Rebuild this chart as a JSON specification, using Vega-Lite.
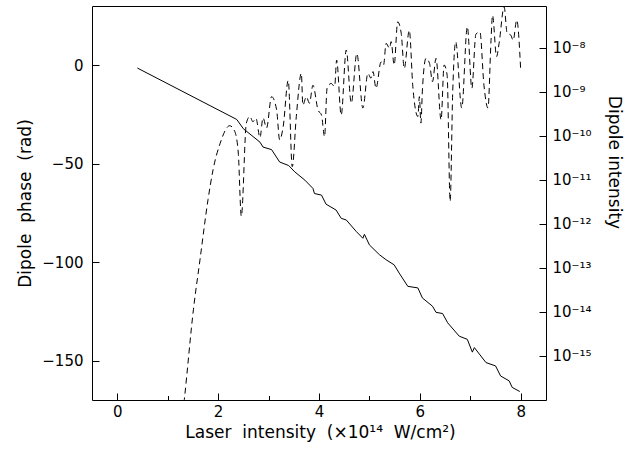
{
  "$schema": "https://vega.github.io/schema/vega-lite/v6.json",
  "width": 454,
  "height": 394,
  "autosize": {"type": "none"},
  "padding": {"left": 92, "top": 6, "right": 80, "bottom": 62},
  "background": "white",
  "config": {
    "view": {"stroke": "black", "strokeWidth": 1},
    "axis": {
      "domainColor": "black", "tickColor": "black", "labelColor": "black", "titleColor": "black",
      "labelFont": "DejaVu Sans", "titleFont": "DejaVu Sans", "labelFontSize": 15, "titleFontSize": 17,
      "titleFontWeight": "normal", "grid": false, "tickWidth": 1, "domain": false, "ticks": true
    }
  },
  "datasets": {
    "phase": [
      {"x": 0.40, "phase": -1.5}, {"x": 2.37, "phase": -27.6}, {"x": 2.50, "phase": -32.3}, {"x": 2.83, "phase": -39.1},
      {"x": 2.89, "phase": -41.6}, {"x": 3.06, "phase": -42.9}, {"x": 3.22, "phase": -49.2}, {"x": 3.40, "phase": -51.0},
      {"x": 3.52, "phase": -54.2}, {"x": 3.72, "phase": -58.4}, {"x": 3.88, "phase": -62.6}, {"x": 3.91, "phase": -65.2},
      {"x": 4.05, "phase": -66.0}, {"x": 4.14, "phase": -70.6}, {"x": 4.34, "phase": -73.6}, {"x": 4.44, "phase": -77.8},
      {"x": 4.54, "phase": -78.6}, {"x": 4.74, "phase": -84.5}, {"x": 4.87, "phase": -87.9}, {"x": 4.90, "phase": -85.9},
      {"x": 5.00, "phase": -91.3}, {"x": 5.20, "phase": -96.3}, {"x": 5.33, "phase": -98.8}, {"x": 5.49, "phase": -101.4},
      {"x": 5.59, "phase": -105.6}, {"x": 5.76, "phase": -112.3}, {"x": 5.96, "phase": -113.1}, {"x": 6.05, "phase": -118.2},
      {"x": 6.25, "phase": -122.4}, {"x": 6.32, "phase": -125.5}, {"x": 6.45, "phase": -126.1}, {"x": 6.55, "phase": -130.8},
      {"x": 6.78, "phase": -137.6}, {"x": 6.94, "phase": -139.2}, {"x": 7.04, "phase": -145.7}, {"x": 7.08, "phase": -143.4},
      {"x": 7.31, "phase": -151.0}, {"x": 7.50, "phase": -152.7}, {"x": 7.60, "phase": -157.8}, {"x": 7.77, "phase": -160.3},
      {"x": 7.83, "phase": -163.6}, {"x": 7.98, "phase": -165.7}
    ],
    "intensity": [
      {"x": 1.30, "intensity": 5e-17}, {"x": 1.33, "intensity": 1.02e-16}, {"x": 1.51, "intensity": 1.12e-14},
      {"x": 1.64, "intensity": 1.51e-13}, {"x": 1.80, "intensity": 3.55e-12}, {"x": 1.90, "intensity": 1.70e-11},
      {"x": 2.04, "intensity": 6.76e-11}, {"x": 2.23, "intensity": 1.70e-10}, {"x": 2.33, "intensity": 1.26e-10},
      {"x": 2.40, "intensity": 4.07e-11}, {"x": 2.46, "intensity": 1.48e-12}, {"x": 2.56, "intensity": 1.95e-10},
      {"x": 2.63, "intensity": 2.75e-10}, {"x": 2.69, "intensity": 2.09e-10}, {"x": 2.75, "intensity": 2.51e-10},
      {"x": 2.83, "intensity": 9.12e-11}, {"x": 2.89, "intensity": 2.57e-10}, {"x": 2.96, "intensity": 1.51e-10},
      {"x": 3.06, "intensity": 7.76e-10}, {"x": 3.16, "intensity": 3.89e-10}, {"x": 3.22, "intensity": 8.13e-11},
      {"x": 3.29, "intensity": 1.62e-10}, {"x": 3.39, "intensity": 1.82e-9}, {"x": 3.47, "intensity": 2.0e-11},
      {"x": 3.55, "intensity": 2.75e-10}, {"x": 3.65, "intensity": 2.63e-9}, {"x": 3.68, "intensity": 5.01e-10},
      {"x": 3.75, "intensity": 7.76e-10}, {"x": 3.81, "intensity": 5.50e-10}, {"x": 3.88, "intensity": 1.41e-9},
      {"x": 3.98, "intensity": 3.89e-10}, {"x": 4.05, "intensity": 2.95e-10}, {"x": 4.11, "intensity": 9.55e-11},
      {"x": 4.16, "intensity": 1.20e-9}, {"x": 4.24, "intensity": 1.55e-9}, {"x": 4.31, "intensity": 1.32e-9},
      {"x": 4.35, "intensity": 5.25e-9}, {"x": 4.44, "intensity": 2.95e-10}, {"x": 4.54, "intensity": 8.91e-9},
      {"x": 4.64, "intensity": 5.50e-10}, {"x": 4.75, "intensity": 7.41e-9}, {"x": 4.87, "intensity": 4.27e-10},
      {"x": 4.97, "intensity": 2.63e-9}, {"x": 5.03, "intensity": 2.04e-9}, {"x": 5.07, "intensity": 2.88e-9},
      {"x": 5.13, "intensity": 1.20e-9}, {"x": 5.23, "intensity": 4.79e-9}, {"x": 5.28, "intensity": 4.07e-9},
      {"x": 5.33, "intensity": 1.26e-8}, {"x": 5.40, "intensity": 9.77e-9}, {"x": 5.43, "intensity": 1.38e-8},
      {"x": 5.49, "intensity": 4.07e-9}, {"x": 5.56, "intensity": 3.89e-8}, {"x": 5.63, "intensity": 2.14e-8},
      {"x": 5.69, "intensity": 3.39e-9}, {"x": 5.79, "intensity": 2.51e-8}, {"x": 5.86, "intensity": 1.32e-9},
      {"x": 5.96, "intensity": 2.75e-10}, {"x": 5.99, "intensity": 7.76e-10}, {"x": 6.02, "intensity": 1.95e-10},
      {"x": 6.05, "intensity": 1.10e-9}, {"x": 6.12, "intensity": 5.75e-9}, {"x": 6.19, "intensity": 4.47e-9},
      {"x": 6.25, "intensity": 1.70e-9}, {"x": 6.32, "intensity": 5.75e-9}, {"x": 6.42, "intensity": 2.29e-10},
      {"x": 6.48, "intensity": 4.07e-9}, {"x": 6.54, "intensity": 2.40e-9}, {"x": 6.60, "intensity": 3.24e-12},
      {"x": 6.65, "intensity": 9.33e-10}, {"x": 6.71, "intensity": 1.38e-8}, {"x": 6.83, "intensity": 4.27e-10},
      {"x": 6.94, "intensity": 3.02e-8}, {"x": 7.03, "intensity": 1.20e-9}, {"x": 7.11, "intensity": 2.04e-8},
      {"x": 7.19, "intensity": 2.29e-8}, {"x": 7.27, "intensity": 1.41e-9}, {"x": 7.35, "intensity": 4.27e-10},
      {"x": 7.41, "intensity": 1.48e-8}, {"x": 7.44, "intensity": 5.50e-8}, {"x": 7.52, "intensity": 6.31e-9},
      {"x": 7.57, "intensity": 1.26e-8}, {"x": 7.67, "intensity": 8.51e-8}, {"x": 7.73, "intensity": 2.14e-8},
      {"x": 7.80, "intensity": 1.95e-8}, {"x": 7.85, "intensity": 1.48e-8}, {"x": 7.92, "intensity": 4.27e-8},
      {"x": 8.00, "intensity": 2.88e-9}
    ]
  },
  "layer": [
    {
      "data": {"name": "phase"},
      "mark": {"type": "line", "color": "black", "strokeWidth": 1, "clip": true},
      "encoding": {
        "x": {
          "field": "x", "type": "quantitative",
          "scale": {"domain": [-0.5, 8.5], "nice": false, "zero": false},
          "axis": {
            "orient": "bottom", "values": [0, 2, 4, 6, 8], "ticks": true, "tickSize": -7, "labelPadding": 11, "format": "d", "labelFlush": false,
            "title": "Laser \u00a0intensity \u00a0(×10¹⁴ \u00a0W/cm²)",
            "titleX": 228, "titleY": 32, "titleBaseline": "middle", "titleAlign": "center"
          }
        },
        "y": {
          "field": "phase", "type": "quantitative",
          "scale": {"domain": [-170, 30], "nice": false, "zero": false},
          "axis": {
            "values": [-150, -100, -50, 0], "ticks": true, "tickSize": -7, "labelPadding": 16, "labelFlush": false,
            "title": "Dipole \u00a0phase \u00a0(rad)",
            "titleX": -67, "titleY": 197, "titleAngle": 270, "titleBaseline": "middle", "titleAlign": "center"
          }
        }
      }
    },
    {
      "data": {"name": "intensity"},
      "mark": {"type": "line", "color": "black", "strokeWidth": 1, "strokeDash": [6, 4], "interpolate": "monotone", "clip": true},
      "encoding": {
        "x": {
          "field": "x", "type": "quantitative",
          "axis": {"orient": "bottom", "values": [1, 3, 5, 7], "ticks": true, "tickSize": -4.5, "labels": false, "title": null}
        },
        "y": {
          "field": "intensity", "type": "quantitative",
          "scale": {"type": "log", "domain": [1e-16, 8.9e-8], "nice": false},
          "axis": {
            "orient": "right",
            "values": [1e-15, 1e-14, 1e-13, 1e-12, 1e-11, 1e-10, 1e-9, 1e-8],
            "ticks": true, "tickSize": -7, "labelPadding": 13, "labelFlush": false, "labelAlign": "left",
            "labelExpr": "datum.value < 1.5e-15 ? '10⁻¹⁵' : datum.value < 1.5e-14 ? '10⁻¹⁴' : datum.value < 1.5e-13 ? '10⁻¹³' : datum.value < 1.5e-12 ? '10⁻¹²' : datum.value < 1.5e-11 ? '10⁻¹¹' : datum.value < 1.5e-10 ? '10⁻¹⁰' : datum.value < 1.5e-9 ? '10⁻⁹' : '10⁻⁸'",
            "title": "Dipole intensity",
            "titleX": 67, "titleY": 156, "titleAngle": 90, "titleBaseline": "middle", "titleAlign": "center"
          }
        }
      }
    }
  ],
  "resolve": {"scale": {"y": "independent"}, "axis": {"x": "independent"}}
}
